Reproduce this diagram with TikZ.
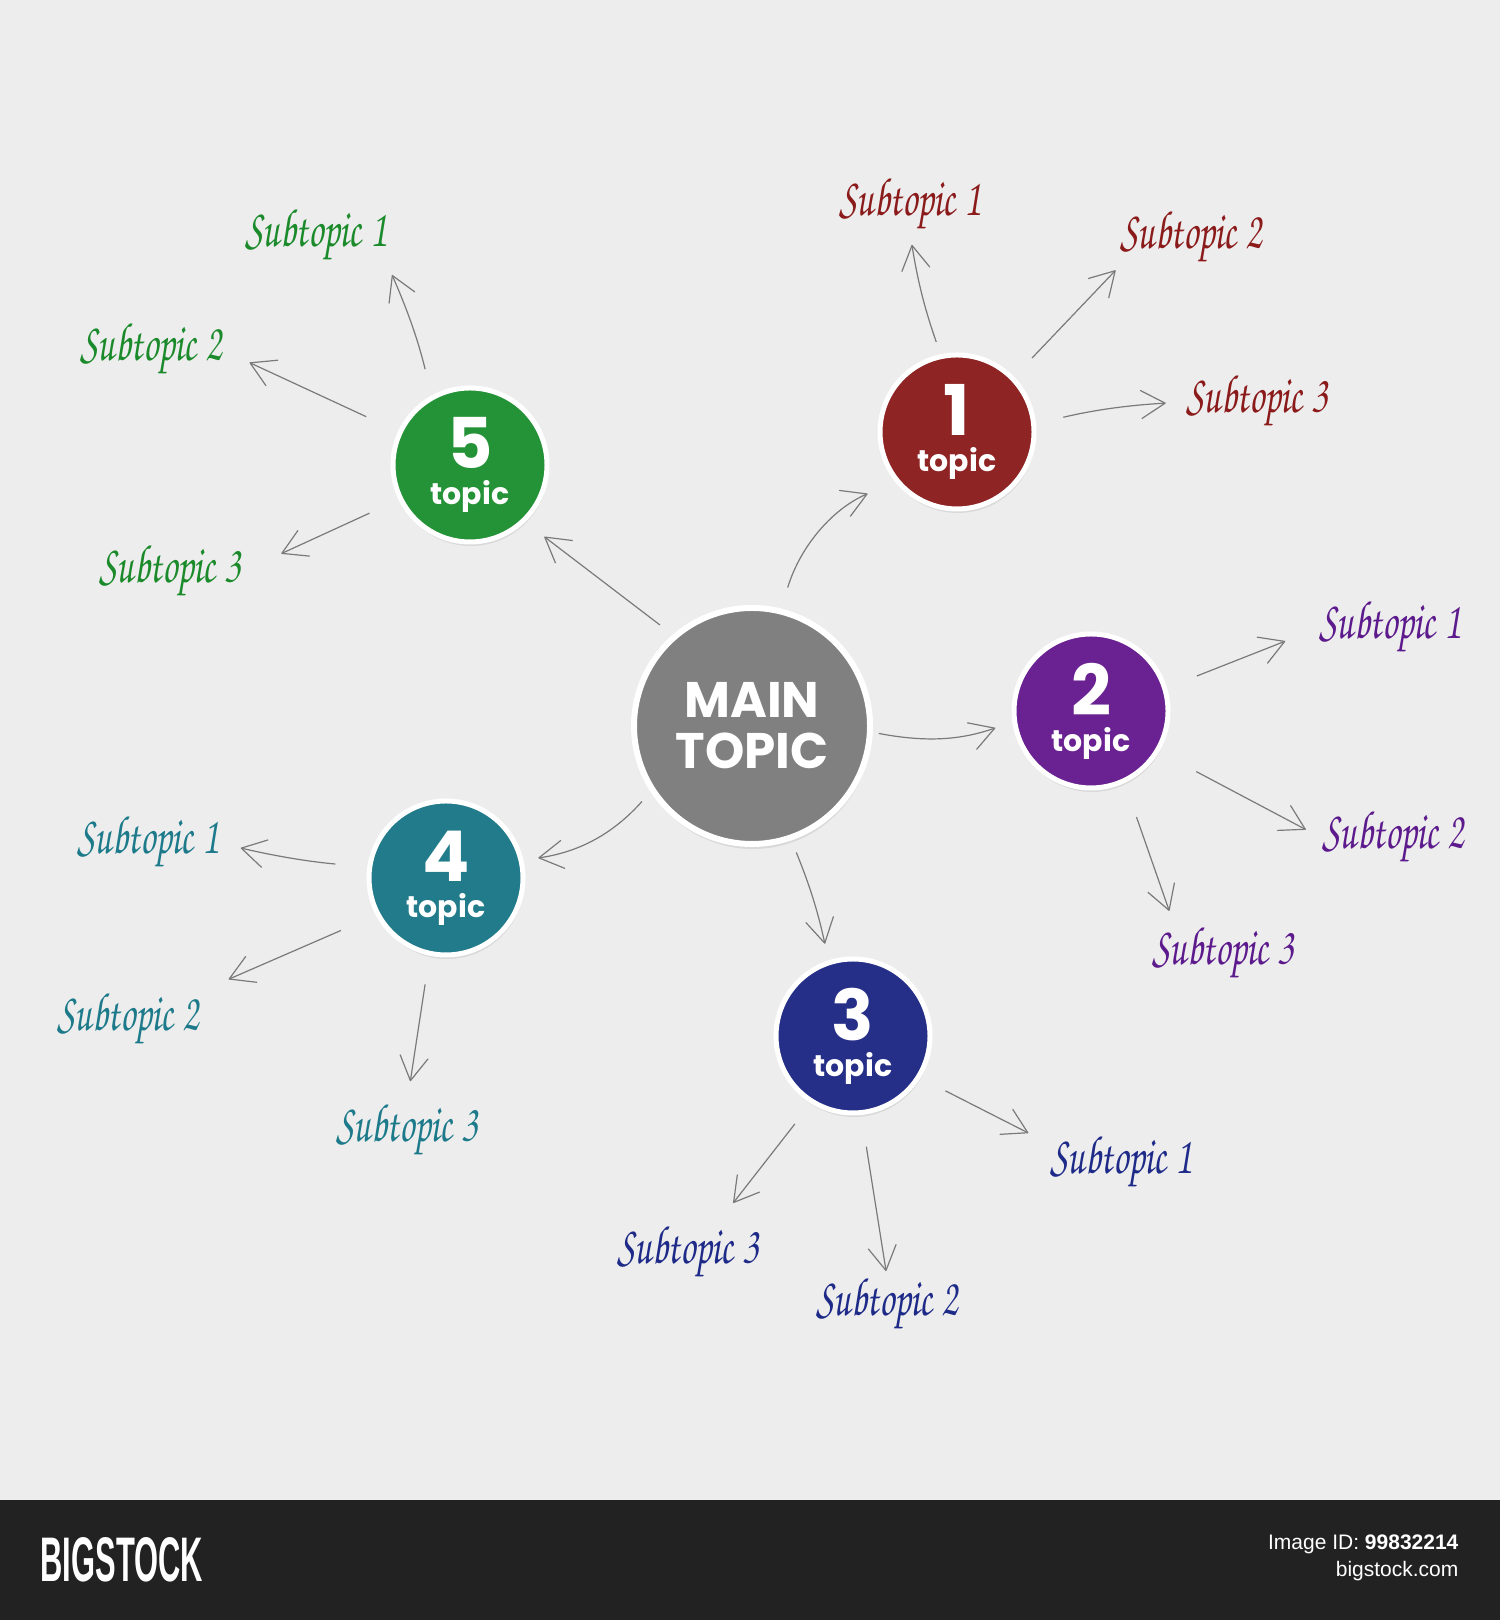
\documentclass[tikz,border=0pt]{standalone}
\usepackage{fontspec}
\usetikzlibrary{arrows.meta}
\usetikzlibrary{shadows}
\newfontfamily\topicfont{Poppins}
\newfontfamily\barfont{Liberation Sans}
\def\hand{\usefont{OT1}{pzc}{m}{it}}
\def\hw#1{\scalebox{0.7}[1]{#1}}
\def\tnum#1{{\fontsize{35}{35}\selectfont #1}\\[2pt]topic}
\definecolor{bggray}{HTML}{EDEDED}
\definecolor{bargray}{HTML}{222222}
\definecolor{arrowgray}{HTML}{7A7A7A}
\definecolor{maingray}{HTML}{808080}
\definecolor{redA}{HTML}{8E2424}
\definecolor{redB}{HTML}{8B1A1A}
\definecolor{purA}{HTML}{6A2191}
\definecolor{purB}{HTML}{5C1A8C}
\definecolor{navA}{HTML}{262F88}
\definecolor{navB}{HTML}{1E2A88}
\definecolor{tealA}{HTML}{217B8A}
\definecolor{tealB}{HTML}{1C7A8A}
\definecolor{grnA}{HTML}{249236}
\definecolor{grnB}{HTML}{1A8A2A}

\begin{document}
\begin{tikzpicture}[x=0.5pt,y=0.5pt,->,>={Straight Barb[length=12pt,width=14pt,round]},
	semithick,draw=arrowgray]
	\tikzstyle{topic}=[circle,draw=white,line width=2.5pt,minimum size=77pt,inner sep=0pt,
		text=white,align=center,font=\topicfont\bfseries\fontsize{15}{16}\selectfont,
		drop shadow={opacity=0.18,shadow xshift=0.5pt,shadow yshift=-2pt}]
	\tikzstyle{sub}=[inner sep=0pt,font=\hand\fontsize{27}{29}\selectfont]
	\tikzstyle{bar}=[text=white,inner sep=0pt]

	\fill[bggray] (0,0) rectangle (1500,1620);
	\useasboundingbox (0,0) rectangle (1500,1620);

	\node[circle,draw=white,line width=3pt,minimum size=118pt,inner sep=0pt,fill=maingray,
		text=white,align=center,font=\topicfont\bfseries\fontsize{25}{25.5}\selectfont,
		drop shadow={opacity=0.18,shadow xshift=0.5pt,shadow yshift=-2.5pt}]
		(m) at (752,894) {MAIN\\TOPIC};

	\node[topic,fill=redA]  (t1) at (957,1188) {\tnum 1};
	\node[topic,fill=purA]  (t2) at (1091,909) {\tnum 2};
	\node[topic,fill=navA]  (t3) at (853,584)  {\tnum 3};
	\node[topic,fill=tealA] (t4) at (446,742)  {\tnum 4};
	\node[topic,fill=grnA]  (t5) at (470,1155) {\tnum 5};

	\node[sub,text=redB]  (s11) at (910,1415)  {\hw{Subtopic 1}};
	\node[sub,text=redB]  (s12) at (1191,1382) {\hw{Subtopic 2}};
	\node[sub,text=redB]  (s13) at (1257,1218) {\hw{Subtopic 3}};
	\node[sub,text=purB]  (s21) at (1390,992)  {\hw{Subtopic 1}};
	\node[sub,text=purB]  (s22) at (1393,782)  {\hw{Subtopic 2}};
	\node[sub,text=purB]  (s23) at (1223,666)  {\hw{Subtopic 3}};
	\node[sub,text=navB]  (s31) at (1121,457)  {\hw{Subtopic 1}};
	\node[sub,text=navB]  (s32) at (887,315)   {\hw{Subtopic 2}};
	\node[sub,text=navB]  (s33) at (688,367)   {\hw{Subtopic 3}};
	\node[sub,text=tealB] (s41) at (148,777)   {\hw{Subtopic 1}};
	\node[sub,text=tealB] (s42) at (128,600)   {\hw{Subtopic 2}};
	\node[sub,text=tealB] (s43) at (407,489)   {\hw{Subtopic 3}};
	\node[sub,text=grnB]  (s51) at (316,1384)  {\hw{Subtopic 1}};
	\node[sub,text=grnB]  (s52) at (151,1270)  {\hw{Subtopic 2}};
	\node[sub,text=grnB]  (s53) at (170,1048)  {\hw{Subtopic 3}};

	\path
		(m.76)    edge [bend left=25,shorten <=11pt,shorten >=15pt] (t1.219)
		(m.-3)    edge [bend right=15,shorten <=3pt,shorten >=9pt]  (t2.188)
		(m.289)   edge [bend left=5,shorten <=6.5pt,shorten >=8.5pt] (t3.108)
		(m.213)   edge [bend left=20,shorten <=6.5pt,shorten >=7.5pt] (t4.13)
		(m.131.5) edge [shorten <=8pt,shorten >=12pt]               (t5.314)
		(t1.102)  edge [bend left=5,shorten <=6.5pt,shorten >=6pt]  (s11.south)
		(t1.44)   edge [shorten <=13pt,shorten >=3pt]               (s12.south west)
		(t1.6)    edge [bend left=5,shorten <=14pt,shorten >=10pt]  (s13.west)
		(t2.17.8) edge [shorten <=16pt,shorten >=18pt]              (s21.west)
		(t2.329)  edge [shorten <=21pt,shorten >=9pt]               (s22.west)
		(t2.295)  edge [shorten <=18pt,shorten >=8pt]               (s23.150)
		(t3.328)  edge [shorten <=14pt,shorten >=12pt]              (s31.165)
		(t3.276)  edge [shorten <=16pt,shorten >=3pt]               (s32.north)
		(t3.238)  edge [shorten <=13pt,shorten >=14pt]              (s33.45)
		(t4.172.7) edge [bend left=4,shorten <=16pt,shorten >=11pt] (s41.east)
		(t4.208)  edge [shorten <=19pt,shorten >=16pt]              (s42.north east)
		(t4.258)  edge [shorten <=14.5pt,shorten >=11pt]            (s43.north)
		(t5.119.5) edge [bend right=5,shorten <=13.5pt,shorten >=6pt] (s51.south east)
		(t5.155.7) edge [shorten <=17.5pt,shorten >=15pt]           (s52.east)
		(t5.206.8) edge [shorten <=16pt,shorten >=22pt]             (s53.east)
	;

	% footer strip
	\fill[bargray] (0,0) rectangle (1500,120);
	\node[bar,anchor=west,font=\barfont\bfseries\fontsize{31.5}{32}\selectfont] (logo) at (40,60)
		{\scalebox{0.49}[1]{BIGSTOCK}};
	\node[bar,anchor=base east,font=\barfont\fontsize{10.5}{12}\selectfont] (imgid) at (1459,70)
		{Image ID: \textbf{99832214}};
	\node[bar,anchor=base east,font=\barfont\fontsize{10.5}{12}\selectfont] (site) at (1459,43)
		{bigstock.com};
\end{tikzpicture}
\end{document}
